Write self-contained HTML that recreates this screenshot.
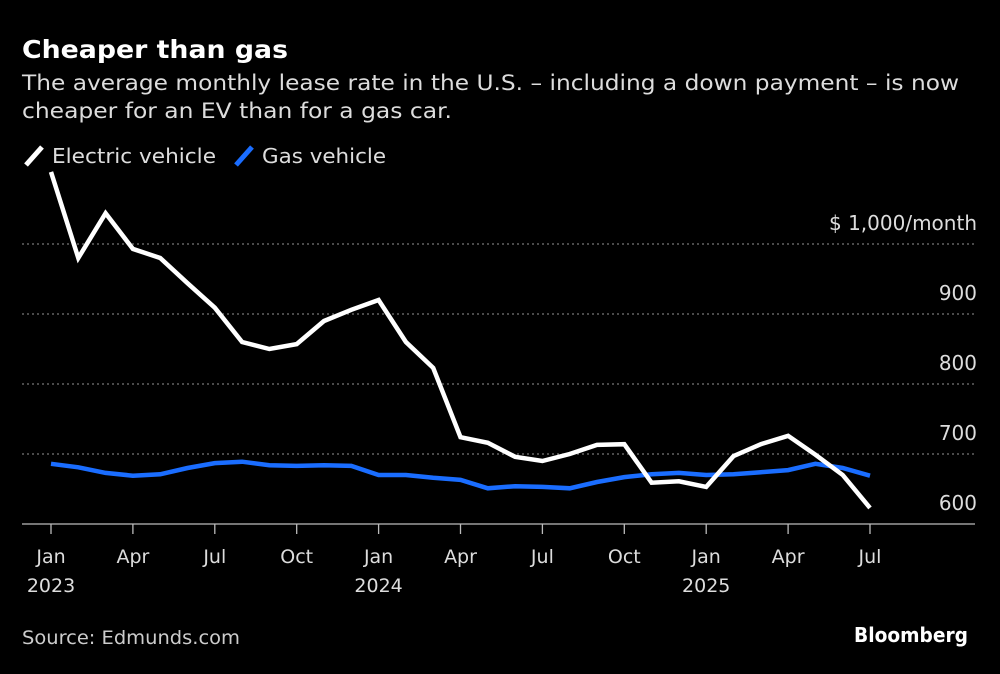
<!DOCTYPE html>
<html><head><meta charset="utf-8"><style>
body{margin:0;background:#000;width:1000px;height:670px;overflow:hidden;font-family:"DejaVu Sans","Liberation Sans",sans-serif;color:#fff}
svg text{font-family:"DejaVu Sans","Liberation Sans",sans-serif}
</style></head><body>
<svg width="1000" height="670">
<text x="22" y="58" font-size="25" font-weight="bold" fill="#fff" textLength="266" lengthAdjust="spacingAndGlyphs">Cheaper than gas</text>
<text x="22" y="90" font-size="21" fill="#ddd" textLength="937" lengthAdjust="spacingAndGlyphs">The average monthly lease rate in the U.S. – including a down payment – is now</text>
<text x="22" y="118" font-size="21" fill="#ddd" textLength="430" lengthAdjust="spacingAndGlyphs">cheaper for an EV than for a gas car.</text>
<g>
<line x1="26" y1="165" x2="42" y2="147" stroke="#fff" stroke-width="5"/>
<text x="52" y="163" font-size="20" fill="#ddd" textLength="164" lengthAdjust="spacingAndGlyphs">Electric vehicle</text>
<line x1="236" y1="165" x2="252" y2="147" stroke="#1a6dff" stroke-width="5"/>
<text x="262" y="163" font-size="20" fill="#ddd" textLength="124" lengthAdjust="spacingAndGlyphs">Gas vehicle</text>
</g>
<g id="grid"></g><g id="xaxis"></g><g id="lines"></g>
<text x="22" y="644" font-size="19" fill="#ccc" textLength="218" lengthAdjust="spacingAndGlyphs">Source: Edmunds.com</text>
<text x="968" y="642" font-size="20" font-weight="bold" fill="#fff" text-anchor="end" textLength="114" lengthAdjust="spacingAndGlyphs">Bloomberg</text>
</svg>
<script>
const evValues=[1103,980,1044,993,980,944,909,860,850,857,890,906,920,860,823,724,716,696,690,700,713,714,659,661,653,697,714,726,699,670,623];
const gasValues=[686,681,673,669,671,680,687,689,684,683,684,683,670,670,666,663,651,654,653,651,660,667,671,673,670,671,674,677,686,680,669];
const yTicks=[600,700,800,900,1000];
const yTickLabels=["600","700","800","900","$ 1,000/month"];
const xTickMonths=[0,3,6,9,12,15,18,21,24,27,30];
const xTickLabels=["Jan","Apr","Jul","Oct","Jan","Apr","Jul","Oct","Jan","Apr","Jul"];
const xYearLabels={0:"2023",12:"2024",24:"2025"};
const NS="http://www.w3.org/2000/svg";
const xs=m=>51+m*27.3;
const ys=v=>524-(v-600)*0.7;
function mk(tag,attrs,parent){const e=document.createElementNS(NS,tag);for(const k in attrs)e.setAttribute(k,attrs[k]);parent.appendChild(e);return e;}
const grid=document.getElementById('grid');
yTicks.forEach((v,i)=>{
  if(v>600){const l=mk('line',{x1:22,x2:975,y1:ys(v),y2:ys(v),stroke:'#777','stroke-width':1.3,'stroke-dasharray':'2,3'},grid);
  
  }
  const t=mk('text',{x:977,y:ys(v)-14,'font-size':20,fill:'#ddd','text-anchor':'end'},grid);
  t.textContent=yTickLabels[i];
  
  
});
const xa=document.getElementById('xaxis');
const base=mk('line',{x1:22,x2:975,y1:524,y2:524,stroke:'#bbb','stroke-width':1.3},xa);


xTickMonths.forEach((m,i)=>{
  const tk=mk('line',{x1:xs(m),x2:xs(m),y1:524,y2:534,stroke:'#bbb','stroke-width':1.3},xa);
  
  
  const t=mk('text',{x:xs(m),y:563,'font-size':19,fill:'#ddd','text-anchor':'middle'},xa);
  t.textContent=xTickLabels[i];
  
  
  if(xYearLabels[m]){const y=mk('text',{x:xs(m),y:592,'font-size':19,fill:'#ddd','text-anchor':'middle'},xa);
  y.textContent=xYearLabels[m];
  
  }
});
const lg=document.getElementById('lines');
function line(vals,color,name){
  const p=mk('polyline',{points:vals.map((v,i)=>xs(i)+','+ys(v)).join(' '),fill:'none',stroke:color,'stroke-width':4.5,'stroke-linejoin':'miter'},lg);
  
  
}
line(gasValues,'#1a6dff','gas-vehicle-line');
line(evValues,'#fff','electric-vehicle-line');
</script>
</body></html>
